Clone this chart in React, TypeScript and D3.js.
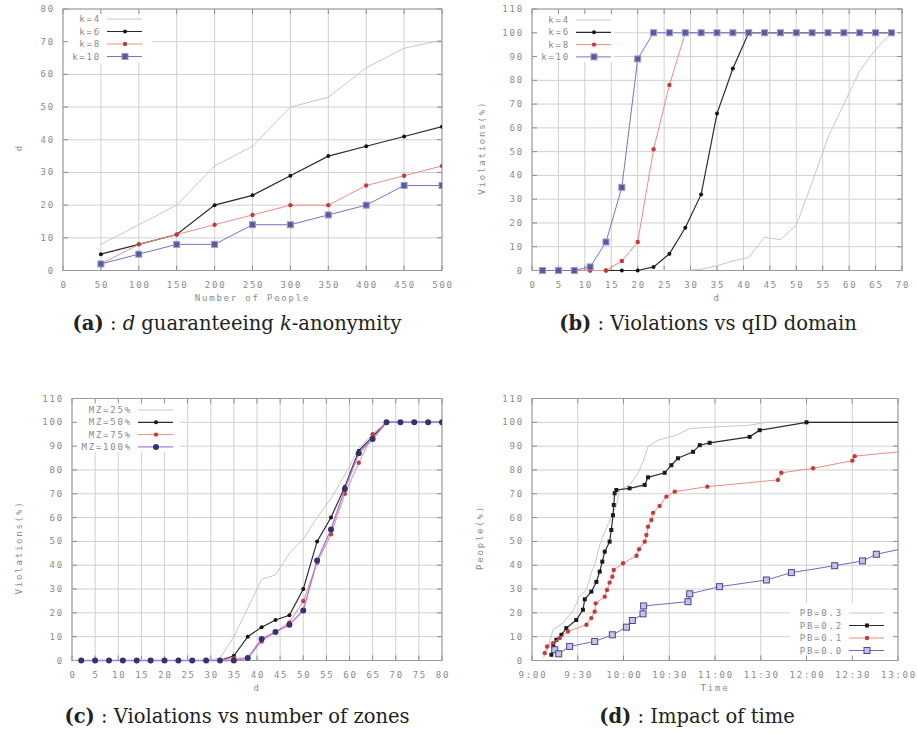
import React from 'react';
import * as d3 from 'd3';

// ---- data ----
const peopleCounts = [50, 100, 150, 200, 250, 300, 350, 400, 450, 500];
const dK4 = [8, 14, 20, 32, 38, 50, 53, 62, 68, 70.5];
const dK6 = [5, 8, 11, 20, 23, 29, 35, 38, 41, 44];
const dK8 = [2, 8, 11, 14, 17, 20, 20, 26, 29, 32];
const dK10 = [2, 5, 8, 8, 14, 14, 17, 20, 26, 26];

const qidD = [2, 5, 8, 11, 14, 17, 20, 23, 26, 29, 32, 35, 38, 41, 44, 47, 50, 53, 56, 59, 62, 65, 68];
const violK4 = [0, 0, 0, 0, 0, 0, 0, 0, 0, 0, 0.5, 2, 4, 5.5, 14, 13, 19, 37, 56, 70, 84, 93, 100];
const violK6 = [0, 0, 0, 0, 0, 0, 0, 1.5, 7, 18, 32, 66, 85, 100, 100, 100, 100, 100, 100, 100, 100, 100, 100];
const violK8 = [0, 0, 0, 0, 0, 4, 12, 51, 78, 100, 100, 100, 100, 100, 100, 100, 100, 100, 100, 100, 100, 100, 100];
const violK10 = [0, 0, 0, 1.5, 12, 35, 89, 100, 100, 100, 100, 100, 100, 100, 100, 100, 100, 100, 100, 100, 100, 100, 100];

const zonesD = [2, 5, 8, 11, 14, 17, 20, 23, 26, 29, 32, 35, 38, 41, 44, 47, 50, 53, 56, 59, 62, 65, 68, 71, 74, 77, 80];
const violMZ25 = [0, 0, 0, 0, 0, 0, 0, 0, 0, 0, 1, 10, 22, 34, 36, 45, 51, 60, 68, 78, 89, 95, 100, 100, 100, 100, 100];
const violMZ50 = [0, 0, 0, 0, 0, 0, 0, 0, 0, 0, 0, 2, 10, 14, 17, 19, 30, 50, 60, 73, 88, 94, 100, 100, 100, 100, 100];
const violMZ75 = [0, 0, 0, 0, 0, 0, 0, 0, 0, 0, 0, 1, 1, 8, 12, 16, 25, 41, 53, 70, 83, 95, 100, 100, 100, 100, 100];
const violMZ100 = [0, 0, 0, 0, 0, 0, 0, 0, 0, 0, 0, 0, 1, 9, 12, 15, 21, 42, 55, 72, 87, 93, 100, 100, 100, 100, 100];

// minutes after 9:00
const pb03Minutes = [7, 9.4, 13.8, 20.3, 27, 31.3, 35.7, 39, 41, 44.4, 47.7, 50.5, 55.3, 57.5, 64, 69.5, 72.8, 76, 82.6, 94.7, 103.4, 118.7, 142.7, 153.7, 260];
const pb03Values = [1, 3, 13, 15.7, 21, 27, 29.6, 37, 40, 48.5, 54, 58, 65, 71.6, 73.7, 78.6, 83.4, 89.7, 92.5, 94.6, 97.4, 98, 98.8, 100, 100];
const pb02Minutes = [12.7, 14, 16, 19.3, 22.5, 29, 33.4, 34.6, 38.9, 42.2, 44.4, 46.1, 47.7, 50.9, 52, 53.1, 53.6, 54.2, 55.3, 64, 73.9, 76.1, 87, 91.4, 95.7, 105.6, 110, 116.5, 142.7, 149.3, 180, 260];
const pb02Values = [2.4, 5.9, 8.7, 10.8, 13.6, 17, 21.3, 25.7, 28.9, 33, 37.3, 41.5, 45.7, 49.9, 54.8, 61, 65.3, 70.2, 71.6, 72.3, 73.7, 76.9, 78.8, 82, 84.9, 87.6, 90.4, 91.4, 93.9, 96.7, 100, 100];
const pb01Minutes = [8.3, 9.9, 13.8, 18.2, 23.6, 35.7, 38.9, 41.1, 41.8, 47.7, 49.2, 50.9, 52.7, 53.6, 59.7, 68.5, 70.2, 73.9, 75, 76.1, 78.3, 79.4, 83.7, 88.1, 93.6, 115, 161.3, 163.5, 184.3, 210.1, 211.6, 260];
const pb01Values = [3.1, 5.9, 7.3, 9.4, 12.2, 15, 17.8, 20.5, 24, 26.8, 29.6, 32.7, 35.2, 38, 40.8, 44, 46.7, 49.9, 52.7, 56.2, 59, 62, 64.9, 68.8, 70.9, 73, 75.8, 78.8, 80.7, 83.9, 85.8, 88.8];
const pb00Minutes = [14.9, 17.5, 24.7, 41.1, 52.7, 61.9, 65.8, 72.8, 73.2, 102.3, 103.4, 123, 153.7, 170.1, 198.5, 216.7, 225.8, 260];
const pb00Values = [4.5, 2.8, 5.9, 8, 10.8, 14, 16.8, 19.6, 22.9, 24.7, 28, 31, 33.8, 36.9, 39.8, 41.8, 44.6, 49.3];

// tick values
const peopleTicks = [0, 50, 100, 150, 200, 250, 300, 350, 400, 450, 500];
const dTicksA = [0, 10, 20, 30, 40, 50, 60, 70, 80];
const qidTicks = [0, 5, 10, 15, 20, 25, 30, 35, 40, 45, 50, 55, 60, 65, 70];
const zoneTicks = [0, 5, 10, 15, 20, 25, 30, 35, 40, 45, 50, 55, 60, 65, 70, 75, 80];
const percentTicks = [0, 10, 20, 30, 40, 50, 60, 70, 80, 90, 100, 110];
const timeTicks = [0, 30, 60, 90, 120, 150, 180, 210, 240];

// ---- styles ----
const GRAY = { line: '#c6c6c6', width: 1, marker: 'none' };
const BLACK = { line: '#2b2b2b', width: 1.2, marker: 'dot', fill: '#151515', stroke: 'none', r: 2 };
const RED = { line: '#f08a86', width: 1, marker: 'dot', fill: '#c83a3a', stroke: 'none', r: 2.2 };
const BLUE_SQ = { line: '#7474c4', width: 1, marker: 'square', fill: '#5a5a98', stroke: '#9a9ad4', r: 3 };
const VIOLET = { line: '#a878e6', width: 1.4, marker: 'dot', fill: '#34346c', stroke: 'none', r: 3 };
const BLACK_SQ = { line: '#2b2b2b', width: 1.2, marker: 'square', fill: '#1a1a1a', stroke: 'none', r: 2 };
const BLUE_OPEN = { line: '#6c6cc0', width: 1, marker: 'square', fill: '#c4c4e6', stroke: '#45459a', r: 3 };

const monoFont = '"DejaVu Sans Mono", monospace';
const serifFont = '"DejaVu Serif", serif';

const clock = (m: number) => `${Math.floor(9 + m / 60)}:${String(m % 60).padStart(2, '0')}`;

type Series = { label: string; xs: number[]; ys: number[]; style: any };

const Marker = ({ x, y, s }: { x: number; y: number; s: any }) => {
  if (s.marker === 'dot') return <circle cx={x} cy={y} r={s.r} fill={s.fill} />;
  if (s.marker === 'square')
    return <rect x={x - s.r} y={y - s.r} width={s.r * 2} height={s.r * 2} fill={s.fill} stroke={s.stroke} strokeWidth={1} />;
  return null;
};

const Panel = ({ id, box, xDomain, yDomain, xTicks, yTicks, xFmt, series, legend, xTitle, yTitle, yTitleX, yTitleDy = 8 }: any) => {
  const x = d3.scaleLinear().domain(xDomain).range([box.left, box.right]);
  const y = d3.scaleLinear().domain(yDomain).range([box.bottom, box.top]);
  const line = d3.line<[number, number]>().x(d => x(d[0])).y(d => y(d[1]));
  const fmt = xFmt || ((v: number) => String(v));
  const tick = 5;

  return (
    <g>
      <defs>
        <clipPath id={`clip-${id}`}>
          <rect x={box.left} y={box.top - 4} width={box.right - box.left} height={box.bottom - box.top + 8} />
        </clipPath>
      </defs>
      {/* grid */}
      {xTicks.map((t: number) => (
        <line key={'gx' + t} x1={x(t)} x2={x(t)} y1={box.top} y2={box.bottom} stroke="#d0d0d0" />
      ))}
      {yTicks.map((t: number) => (
        <line key={'gy' + t} x1={box.left} x2={box.right} y1={y(t)} y2={y(t)} stroke="#d0d0d0" />
      ))}
      {/* legend background hides the grid */}
      <rect x={legend.bg[0]} y={legend.bg[1]} width={legend.bg[2] - legend.bg[0]} height={legend.bg[3] - legend.bg[1]} fill="#fff" />
      {/* ticks on all four sides */}
      {xTicks.map((t: number) => (
        <g key={'tx' + t} stroke="#8c8c8c">
          <line x1={x(t)} x2={x(t)} y1={box.bottom} y2={box.bottom - tick} />
          <line x1={x(t)} x2={x(t)} y1={box.top} y2={box.top + tick} />
        </g>
      ))}
      {yTicks.map((t: number) => (
        <g key={'ty' + t} stroke="#8c8c8c">
          <line x1={box.left} x2={box.left + tick} y1={y(t)} y2={y(t)} />
          <line x1={box.right} x2={box.right - tick} y1={y(t)} y2={y(t)} />
        </g>
      ))}
      <rect x={box.left} y={box.top} width={box.right - box.left} height={box.bottom - box.top} fill="none" stroke="#9a9a9a" />
      {/* tick labels */}
      <g fontFamily={monoFont} fontSize={9} fill="#8a8a8a" letterSpacing={1.8}>
        {xTicks.map((t: number) => (
          <text key={'lx' + t} x={x(t) + 1} y={box.bottom + 17} textAnchor="middle">{fmt(t)}</text>
        ))}
        {yTicks.map((t: number) => (
          <text key={'ly' + t} x={box.left - 8} y={y(t) + 3} textAnchor="end">{t}</text>
        ))}
        <text x={(box.left + box.right) / 2} y={box.bottom + 30} textAnchor="middle">{xTitle}</text>
        <text transform={`translate(${yTitleX},${(box.top + box.bottom) / 2 + yTitleDy}) rotate(-90)`} textAnchor="middle">{yTitle}</text>
      </g>
      {/* series */}
      <g clipPath={`url(#clip-${id})`}>
        {series.map((s: Series) => {
          const pts = s.xs.map((v, i) => [v, s.ys[i]] as [number, number]);
          return (
            <g key={s.label}>
              <path d={line(pts) || ''} fill="none" stroke={s.style.line} strokeWidth={s.style.width} />
              {pts.filter(p => p[0] <= xDomain[1]).map((p, i) => (
                <Marker key={i} x={x(p[0])} y={y(p[1])} s={s.style} />
              ))}
            </g>
          );
        })}
      </g>
      {/* legend */}
      <g fontFamily={monoFont} fontSize={9} fill="#8a8a8a" letterSpacing={1.8}>
        {series.map((s: Series, i: number) => {
          const ly = legend.y + i * legend.dy;
          return (
            <g key={'lg' + s.label}>
              <text x={legend.x} y={ly + 3} textAnchor="end">{s.label}</text>
              <line x1={legend.x + 6} x2={legend.x + 41} y1={ly} y2={ly} stroke={s.style.line} strokeWidth={s.style.width} />
              <Marker x={legend.x + 24} y={ly} s={s.style} />
            </g>
          );
        })}
      </g>
    </g>
  );
};

const Caption = ({ x, y, tag, parts }: any) => (
  <text x={x} y={y} textAnchor="middle" fontFamily={serifFont} fontSize={19.5} fill="#222">
    <tspan fontWeight="bold">{tag}</tspan>
    {parts.map((p: any, i: number) => (
      <tspan key={i} fontStyle={p.it ? 'italic' : 'normal'}>{p.t}</tspan>
    ))}
  </text>
);

export default function App() {
  const seriesA: Series[] = [
    { label: 'k=4', xs: peopleCounts, ys: dK4, style: GRAY },
    { label: 'k=6', xs: peopleCounts, ys: dK6, style: BLACK },
    { label: 'k=8', xs: peopleCounts, ys: dK8, style: RED },
    { label: 'k=10', xs: peopleCounts, ys: dK10, style: BLUE_SQ },
  ];
  const seriesB: Series[] = [
    { label: 'k=4', xs: qidD, ys: violK4, style: GRAY },
    { label: 'k=6', xs: qidD, ys: violK6, style: BLACK },
    { label: 'k=8', xs: qidD, ys: violK8, style: RED },
    { label: 'k=10', xs: qidD, ys: violK10, style: BLUE_SQ },
  ];
  const seriesC: Series[] = [
    { label: 'MZ=25%', xs: zonesD, ys: violMZ25, style: GRAY },
    { label: 'MZ=50%', xs: zonesD, ys: violMZ50, style: BLACK },
    { label: 'MZ=75%', xs: zonesD, ys: violMZ75, style: RED },
    { label: 'MZ=100%', xs: zonesD, ys: violMZ100, style: VIOLET },
  ];
  const seriesD: Series[] = [
    { label: 'PB=0.3', xs: pb03Minutes, ys: pb03Values, style: GRAY },
    { label: 'PB=0.2', xs: pb02Minutes, ys: pb02Values, style: BLACK_SQ },
    { label: 'PB=0.1', xs: pb01Minutes, ys: pb01Values, style: RED },
    { label: 'PB=0.0', xs: pb00Minutes, ys: pb00Values, style: BLUE_OPEN },
  ];

  return (
    <div style={{ position: 'absolute', left: 0, top: 0 }}>
      <svg width={917} height={734} style={{ display: 'block', background: '#fff' }}>
        <Panel id="a" box={{ left: 63, right: 442, top: 9, bottom: 270.5 }} xDomain={[0, 500]} yDomain={[0, 80]}
          xTicks={peopleTicks} yTicks={dTicksA} series={seriesA} xTitle="Number of People" yTitle="d" yTitleX={22}
          legend={{ x: 101, y: 19, dy: 12.5, bg: [64, 10, 152, 63] }} />
        <Panel id="b" box={{ left: 532, right: 902, top: 9, bottom: 270.5 }} xDomain={[0, 70]} yDomain={[0, 110]}
          xTicks={qidTicks} yTicks={percentTicks} series={seriesB} xTitle="d" yTitle="Violations(%)" yTitleX={485}
          legend={{ x: 570, y: 20, dy: 12.3, bg: [533, 10, 614, 62] }} />
        <Panel id="c" box={{ left: 72, right: 442, top: 398.5, bottom: 660.5 }} xDomain={[0, 80]} yDomain={[0, 110]}
          xTicks={zoneTicks} yTicks={percentTicks} series={seriesC} xTitle="d" yTitle="Violations(%)" yTitleX={22} yTitleDy={18}
          legend={{ x: 132, y: 410, dy: 12.3, bg: [73, 399, 180, 452] }} />
        <Panel id="d" box={{ left: 532, right: 898, top: 398.5, bottom: 660.5 }} xDomain={[0, 240]} yDomain={[0, 110]}
          xTicks={timeTicks} yTicks={percentTicks} xFmt={clock} series={seriesD} xTitle="Time" yTitle="People(%)" yTitleX={483}
          legend={{ x: 843, y: 613, dy: 12.5, bg: [790, 603, 897, 659.5] }} />
        <Caption x={237} y={330} tag="(a)" parts={[{ t: ' : ' }, { t: 'd', it: true }, { t: ' guaranteeing ' }, { t: 'k', it: true }, { t: '-anonymity' }]} />
        <Caption x={708} y={330} tag="(b)" parts={[{ t: ' : Violations vs qID domain' }]} />
        <Caption x={237} y={723} tag="(c)" parts={[{ t: ' : Violations vs number of zones' }]} />
        <Caption x={697} y={723} tag="(d)" parts={[{ t: ' : Impact of time' }]} />
      </svg>
    </div>
  );
}
